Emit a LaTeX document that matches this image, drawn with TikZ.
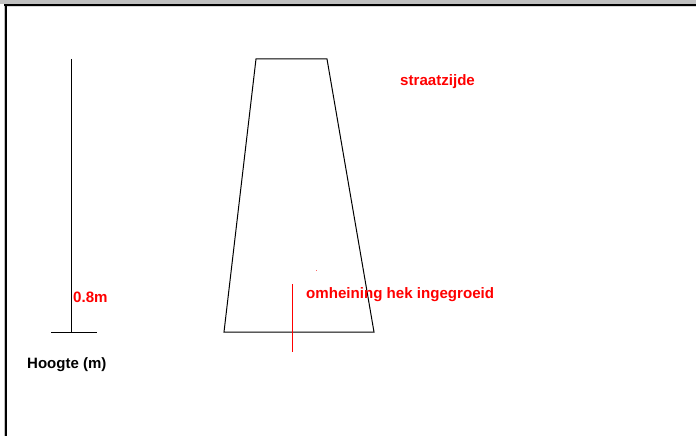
\documentclass[tikz,border=0pt]{standalone}
\usepackage{fontspec}
\setmainfont{Liberation Sans}
\definecolor{frgray}{RGB}{192,192,192}
\definecolor{lab}{RGB}{255,0,0}
\tikzset{
  redlab/.style={anchor=base west,inner sep=0pt,text=lab,font=\bfseries\fontsize{15.1}{17}\selectfont},
  blacklab/.style={anchor=base west,inner sep=0pt,text=black,font=\bfseries\fontsize{15}{17}\selectfont},
  shape line/.style={draw=black,line width=1pt},
  red line/.style={draw=lab,line width=1pt}
}
\begin{document}
\begin{tikzpicture}[x=1pt,y=-1pt]
\useasboundingbox (0,0) rectangle (696,436);
\fill[white] (0,0) rectangle (696,436);
% window frame
\fill[frgray] (0,0) rectangle (696,4);
\fill[frgray] (3.5,4) rectangle (5,436);
\fill[black] (4,4) rectangle (696,6);
\fill[black] (5,4) rectangle (7,436);
\fill[frgray!60] (7,6) rectangle (696,7);
% height scale
\coordinate (scTop) at (71,59);
\coordinate (scBot) at (71,332);
\coordinate (baseL) at (51,332);
\coordinate (baseR) at (97,332);
\draw[shape line] (scTop) -- (scBot);
\draw[shape line] (baseL) -- (baseR);
\node[redlab] (h08) at (73,302) {0.8m};
\node[blacklab] (hoogte) at (27,368.5) {Hoogte (m)};
% trapezoid
\coordinate (tl) at (256,59);
\coordinate (tr) at (327,59);
\coordinate (br) at (374,332);
\coordinate (bl) at (224,332);
\draw[shape line] (tl) -- (tr) -- (br) -- (bl) -- cycle;
% red marker
\coordinate (mTop) at (292,284);
\coordinate (mBot) at (292,351.5);
\draw[red line] (mTop) -- (mBot);
\fill[lab!60] (315.5,269.5) rectangle (316.5,270.5);
\node[redlab] (omh) at (306,298) {omheining hek ingegroeid};
\node[redlab] (straat) at (400,85) {straatzijde};
\end{tikzpicture}
\end{document}
